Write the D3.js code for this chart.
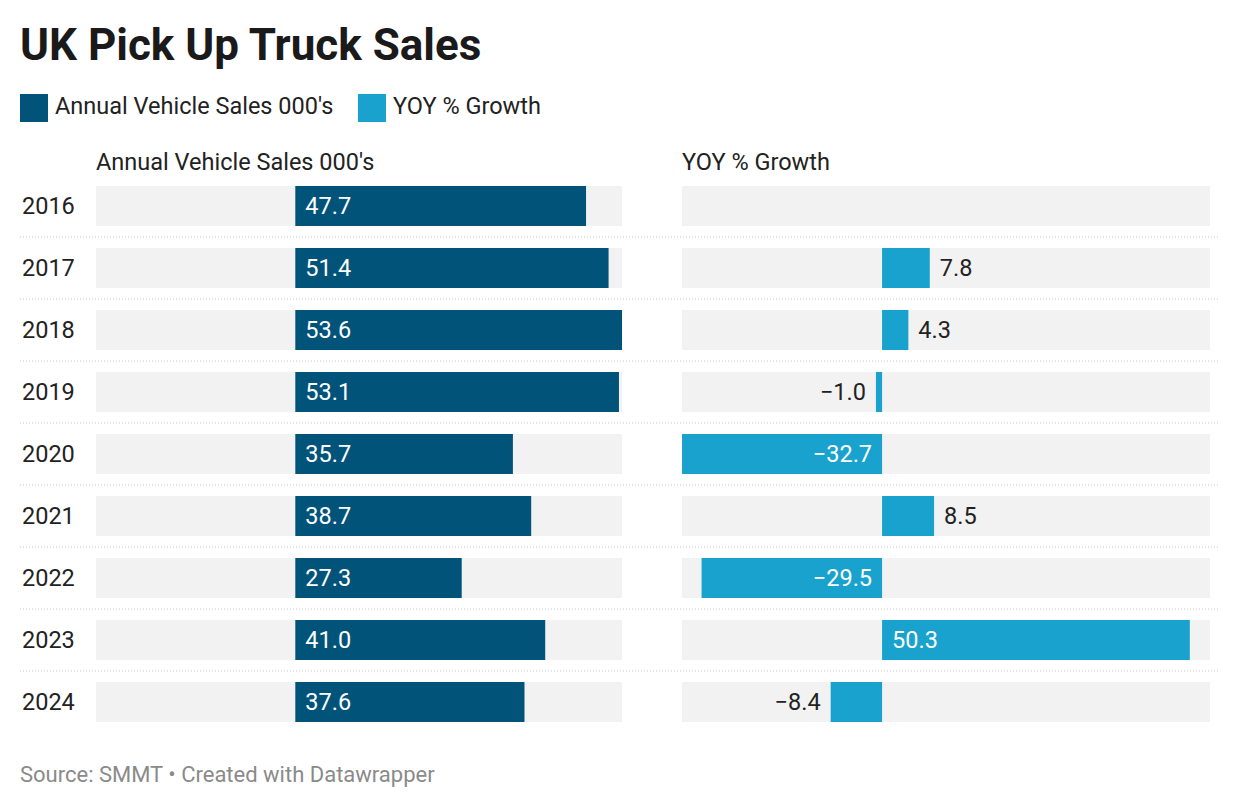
<!DOCTYPE html>
<html>
<head>
<meta charset="utf-8">
<script src="https://cdn.jsdelivr.net/npm/d3@7"></script>
<style>
  body { margin: 0; background: #fff; font-family: Roboto, sans-serif; }
  text { font-family: Roboto, sans-serif; }
</style>
</head>
<body>
<div id="div"></div>
<script>
let w = 1240, h = 810

let years = ["2016", "2017", "2018", "2019", "2020", "2021", "2022", "2023", "2024"]
let sales = [47.7, 51.4, 53.6, 53.1, 35.7, 38.7, 27.3, 41.0, 37.6]
let growth = [null, 7.8, 4.3, -1.0, -32.7, 8.5, -29.5, 50.3, -8.4]
let columns = ["Annual Vehicle Sales 000's", "YOY % Growth"]
let colors = ["#015379", "#18a2cd"]

let fs = 23.5

let svg = d3.select("#div").append("svg")
  .attr("width", w)
  .attr("height", h)

// title
svg.append("text")
  .attr("x", 20).attr("y", 60)
  .attr("font-size", 44).attr("font-weight", "bold").attr("fill", "#1a1a1a")
  .text("UK Pick Up Truck Sales")

// legend
let legendX = [20, 358]
columns.forEach((c, i) => {
  svg.append("rect")
    .attr("x", legendX[i]).attr("y", 94).attr("width", 28).attr("height", 28)
    .attr("fill", colors[i])
  svg.append("text")
    .attr("x", legendX[i] + 35).attr("y", 114)
    .attr("font-size", fs).attr("fill", "#222")
    .text(c)
})

// rows
let y = d3.scaleBand()
  .domain(years)
  .range([175, 733])
  .paddingInner(22 / 62)
  .paddingOuter(11 / 62)

// both columns share one value scale
let domain = [d3.min(growth.filter(d => d != null).concat(sales, [0])), d3.max(sales.concat(growth))]
let panels = [
  {values: sales, x: d3.scaleLinear().domain(domain).range([96, 622])},
  {values: growth, x: d3.scaleLinear().domain(domain).range([682, 1210])}
]

// separators
svg.selectAll("line.sep")
  .data(years.slice(1))
  .enter().append("line")
  .attr("class", "sep")
  .attr("x1", 20).attr("x2", 1218)
  .attr("y1", d => y(d) - (y.step() - y.bandwidth()) / 2)
  .attr("y2", d => y(d) - (y.step() - y.bandwidth()) / 2)
  .attr("stroke", "#c8c8c8").attr("stroke-width", 1).attr("stroke-dasharray", "1,2")

// year labels
svg.selectAll("text.year")
  .data(years)
  .enter().append("text")
  .attr("class", "year")
  .attr("x", 22)
  .attr("y", d => y(d) + y.bandwidth() / 2)
  .attr("dy", "0.36em")
  .attr("font-size", fs).attr("fill", "#222")
  .text(d => d)

panels.forEach((p, i) => {
  let x = p.x, x0 = x(0)
  let g = svg.append("g")
  let rows = years.map((yr, j) => ({year: yr, v: p.values[j]}))

  g.append("text")
    .attr("x", x.range()[0]).attr("y", 170)
    .attr("font-size", fs).attr("fill", "#222")
    .text(columns[i])

  g.selectAll("rect.bg")
    .data(rows)
    .enter().append("rect")
    .attr("class", "bg")
    .attr("x", x.range()[0]).attr("width", x.range()[1] - x.range()[0])
    .attr("y", d => y(d.year)).attr("height", y.bandwidth())
    .attr("fill", "#f2f2f2")

  let vals = rows.filter(d => d.v != null)

  g.selectAll("rect.bar")
    .data(vals)
    .enter().append("rect")
    .attr("class", "bar")
    .attr("x", d => Math.min(x(d.v), x0))
    .attr("width", d => Math.abs(x(d.v) - x0))
    .attr("y", d => y(d.year)).attr("height", y.bandwidth())
    .attr("fill", colors[i])

  let fmt = d => d3.format(".1f")(d).replace("-", "\u2212")
  let inside = d => Math.abs(x(d.v) - x0) > 75

  g.selectAll("text.val")
    .data(vals)
    .enter().append("text")
    .attr("class", "val")
    .attr("x", d => inside(d) ? (d.v >= 0 ? x0 + 10 : x0 - 10) : (d.v >= 0 ? x(d.v) + 10 : x(d.v) - 10))
    .attr("text-anchor", d => (d.v >= 0) ? "start" : "end")
    .attr("y", d => y(d.year) + y.bandwidth() / 2)
    .attr("dy", "0.36em")
    .attr("font-size", fs)
    .attr("fill", d => inside(d) ? "#fff" : "#222")
    .text(d => fmt(d.v))
})

// footer
svg.append("text")
  .attr("x", 20).attr("y", 782)
  .attr("font-size", 22).attr("fill", "#8a8a8a")
  .text("Source: SMMT \u2022 Created with Datawrapper")
</script>
</body>
</html>
